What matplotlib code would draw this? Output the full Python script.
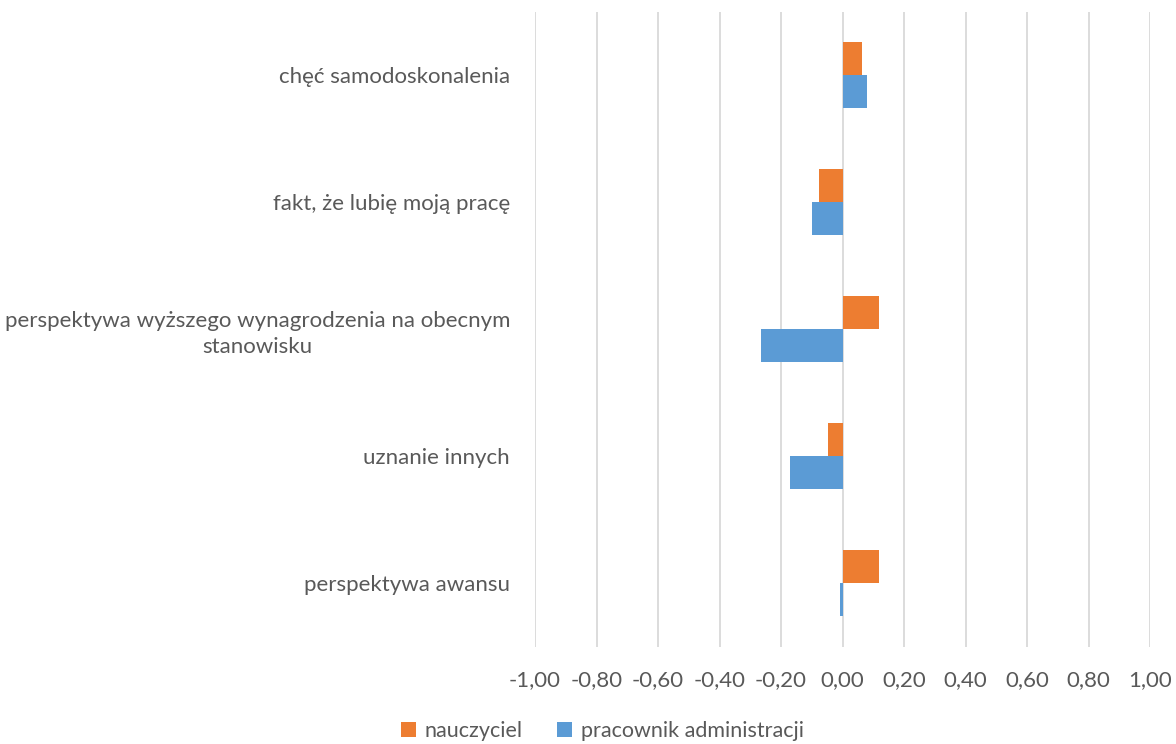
import matplotlib
matplotlib.use('Agg')
import matplotlib.pyplot as plt
import numpy as np

# categories top to bottom
categories = [
    'chęć samodoskonalenia',
    'fakt, że lubię moją pracę',
    'perspektywa wyższego wynagrodzenia na obecnym\nstanowisku',
    'uznanie innych',
    'perspektywa awansu',
]
nauczyciel = [0.063, -0.076, 0.117, -0.049, 0.118]
administracja = [0.078, -0.098, -0.264, -0.172, -0.008]
xticks = np.arange(-1.0, 1.01, 0.2)

plt.rcParams['font.family'] = ['Lato', 'DejaVu Sans']
text_color = '#595959'

fig = plt.figure(figsize=(11.76, 7.44), dpi=100)
ax = fig.add_axes([0.455, 0.131, 0.523, 0.8535])

y = np.arange(len(categories))
h = 0.26
ax.barh(y - h / 2, nauczyciel, height=h, color='#ED7D31', label='nauczyciel', zorder=3)
ax.barh(y + h / 2, administracja, height=h, color='#5B9BD5', label='pracownik administracji', zorder=3)

ax.set_ylim(len(categories) - 0.5, -0.5)
ax.set_xlim(-1, 1)
ax.set_yticks(y)
ax.set_yticklabels(categories, multialignment='center', linespacing=1.4)
ax.set_xticks(xticks)
ax.set_xticklabels([f'{v:.2f}'.replace('.', ',').replace('-0,00', '0,00') for v in xticks])

ax.grid(axis='x', color='#d9d9d9', linewidth=1.3, zorder=0)
for s in ax.spines.values():
    s.set_visible(False)
ax.tick_params(axis='both', length=0, labelsize=16, colors=text_color)
ax.tick_params(axis='x', pad=17)
ax.tick_params(axis='y', pad=18)

fig.legend(loc='center', bbox_to_anchor=(0.512, 0.018), ncol=2, frameon=False,
           fontsize=15.5, labelcolor=text_color, handlelength=0.7, handleheight=0.7,
           handletextpad=0.4, columnspacing=1.6)

fig.savefig('out.png', dpi=100)
